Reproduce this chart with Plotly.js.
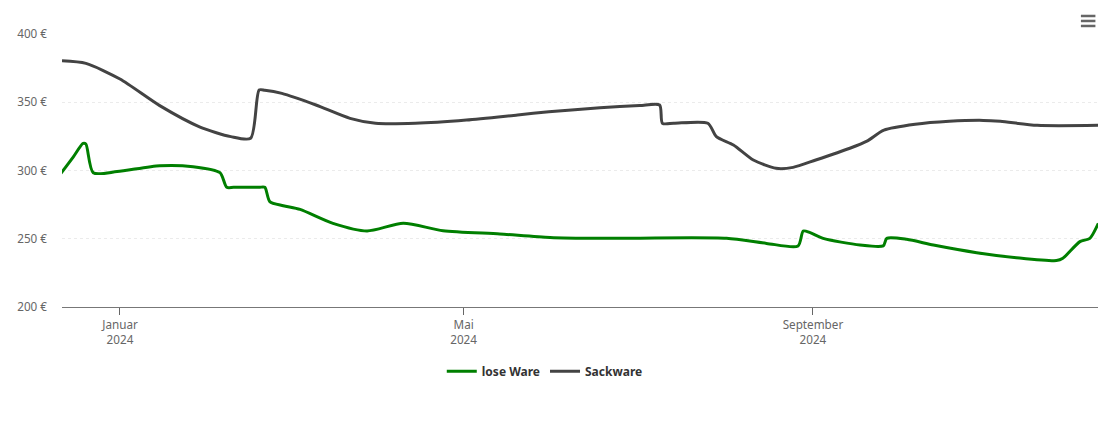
<!DOCTYPE html>
<html>
<head>
<meta charset="utf-8">
<script src="https://cdn.plot.ly/plotly-3.0.1.min.js"></script>
<style>html,body{margin:0;padding:0;background:#fff;}#chart{width:1110px;height:422px;}</style>
</head>
<body>
<div id="chart"></div>
<script>
const seriesNames = ["lose Ware", "Sackware"];

const loseDates = ["2023-12-11 05:00","2023-12-15 14:00","2023-12-19","2023-12-20","2023-12-22 14:00","2023-12-31","2024-01-15","2024-01-26 18:00","2024-02-05 05:00","2024-02-07 14:00","2024-02-10","2024-02-19","2024-02-21","2024-02-22 18:00","2024-02-27 12:00","2024-03-04 10:00","2024-03-16","2024-03-28","2024-04-09 18:00","2024-04-23 18:00","2024-05-13 18:00","2024-05-31 10:00","2024-06-18","2024-08-01 14:00","2024-08-15 16:00","2024-08-26 18:00","2024-08-28 14:00","2024-08-31","2024-09-04 14:00","2024-09-17 14:00","2024-09-25 18:00","2024-09-27","2024-10-04","2024-10-13 10:00","2024-10-28 16:00","2024-11-11 16:00","2024-11-25 18:00","2024-11-28","2024-12-04","2024-12-07 12:00","2024-12-10 12:00"];
const loseValues = [297.9,310,319.9,319.4,298.4,299.2,303.5,302.8,298.4,287.7,287.7,287.7,287.7,277.2,274.2,271.5,261.3,255.7,261.3,255.9,253.5,251,250.3,250.3,246.6,244.7,255.7,254.5,250.3,245.4,244.8,250.3,249.6,245.4,239.8,236.1,234,235.7,247.9,250.3,261.3];

const sackDates = ["2023-12-11 14:00","2023-12-20","2024-01-01","2024-01-15","2024-01-29","2024-02-09","2024-02-16","2024-02-19","2024-02-21","2024-02-27","2024-03-10","2024-03-22","2024-03-31","2024-04-14","2024-05-02","2024-05-20","2024-05-31","2024-06-18","2024-07-02","2024-07-09","2024-07-10","2024-07-14","2024-07-26","2024-07-29","2024-08-04","2024-08-11","2024-08-19","2024-08-25","2024-09-02","2024-09-14","2024-09-20","2024-09-26","2024-10-07","2024-10-19","2024-10-31","2024-11-06","2024-11-19","2024-12-10 12:00"];
const sackValues = [380.4,378.5,367,347.5,332,324.8,323.6,359,358.8,356.5,348,338.2,334.6,334.6,337,340.7,343,346,347.6,348,334.6,334.6,334.6,324.8,318.7,307.7,301.6,302.3,307.7,316.3,321.5,329.5,333.8,336,336.7,336,333.1,333.1];

const xTickVals = ["2024-01-01","2024-05-01","2024-09-01"];
const xTickText = ["Januar<br>2024","Mai<br>2024","September<br>2024"];
const yTickVals = [200,250,300,350,400];
const yTickText = ["200 €","250 €","300 €","350 €","400 €"];

const traces = [
  {x: loseDates, y: loseValues, name: seriesNames[0], type: "scatter", mode: "lines",
   line: {color: "#007f00", width: 3, shape: "spline", smoothing: 0.7}},
  {x: sackDates, y: sackValues, name: seriesNames[1], type: "scatter", mode: "lines",
   line: {color: "#434343", width: 3, shape: "spline", smoothing: 0.7}}
];

const iconLine = (yy) => ({type: "line", xref: "paper", yref: "paper",
  x0: 0.9835, x1: 0.9975, y0: yy, y1: yy, line: {color: "#666666", width: 2.5}});

const layout = {
  width: 1110, height: 422,
  margin: {l: 62, r: 12, t: 34, b: 115},
  paper_bgcolor: "#ffffff", plot_bgcolor: "#ffffff",
  font: {family: "Noto Sans, Open Sans, sans-serif", color: "#666666", size: 11},
  showlegend: true,
  legend: {orientation: "h", x: 0.466, xanchor: "center", y: -0.235, yanchor: "middle",
    font: {size: 12, color: "#333333", weight: "bold"}, itemwidth: 30, tracegroupgap: 0},
  xaxis: {type: "date", range: ["2023-12-11 14:00", "2024-12-10 09:00"],
    tickmode: "array", tickvals: xTickVals, ticktext: xTickText,
    ticks: "outside", ticklen: 7, tickcolor: "#666666", tickwidth: 1,
    showline: true, linecolor: "#777777", linewidth: 1, showgrid: false, zeroline: false,
    tickfont: {size: 11.7, color: "#666666"}, fixedrange: true},
  yaxis: {range: [200, 400], tickmode: "array", tickvals: yTickVals, ticktext: yTickText,
    showgrid: true, gridcolor: "#ebebeb", griddash: "dot", gridwidth: 1, zeroline: false,
    showline: false, ticks: "", ticklabelstandoff: 14,
    tickfont: {size: 11.7, color: "#666666"}, fixedrange: true},
  shapes: [iconLine(1.066), iconLine(1.0477), iconLine(1.0294)]
};

Plotly.newPlot("chart", traces, layout, {displayModeBar: false, responsive: false});
</script>
</body>
</html>
